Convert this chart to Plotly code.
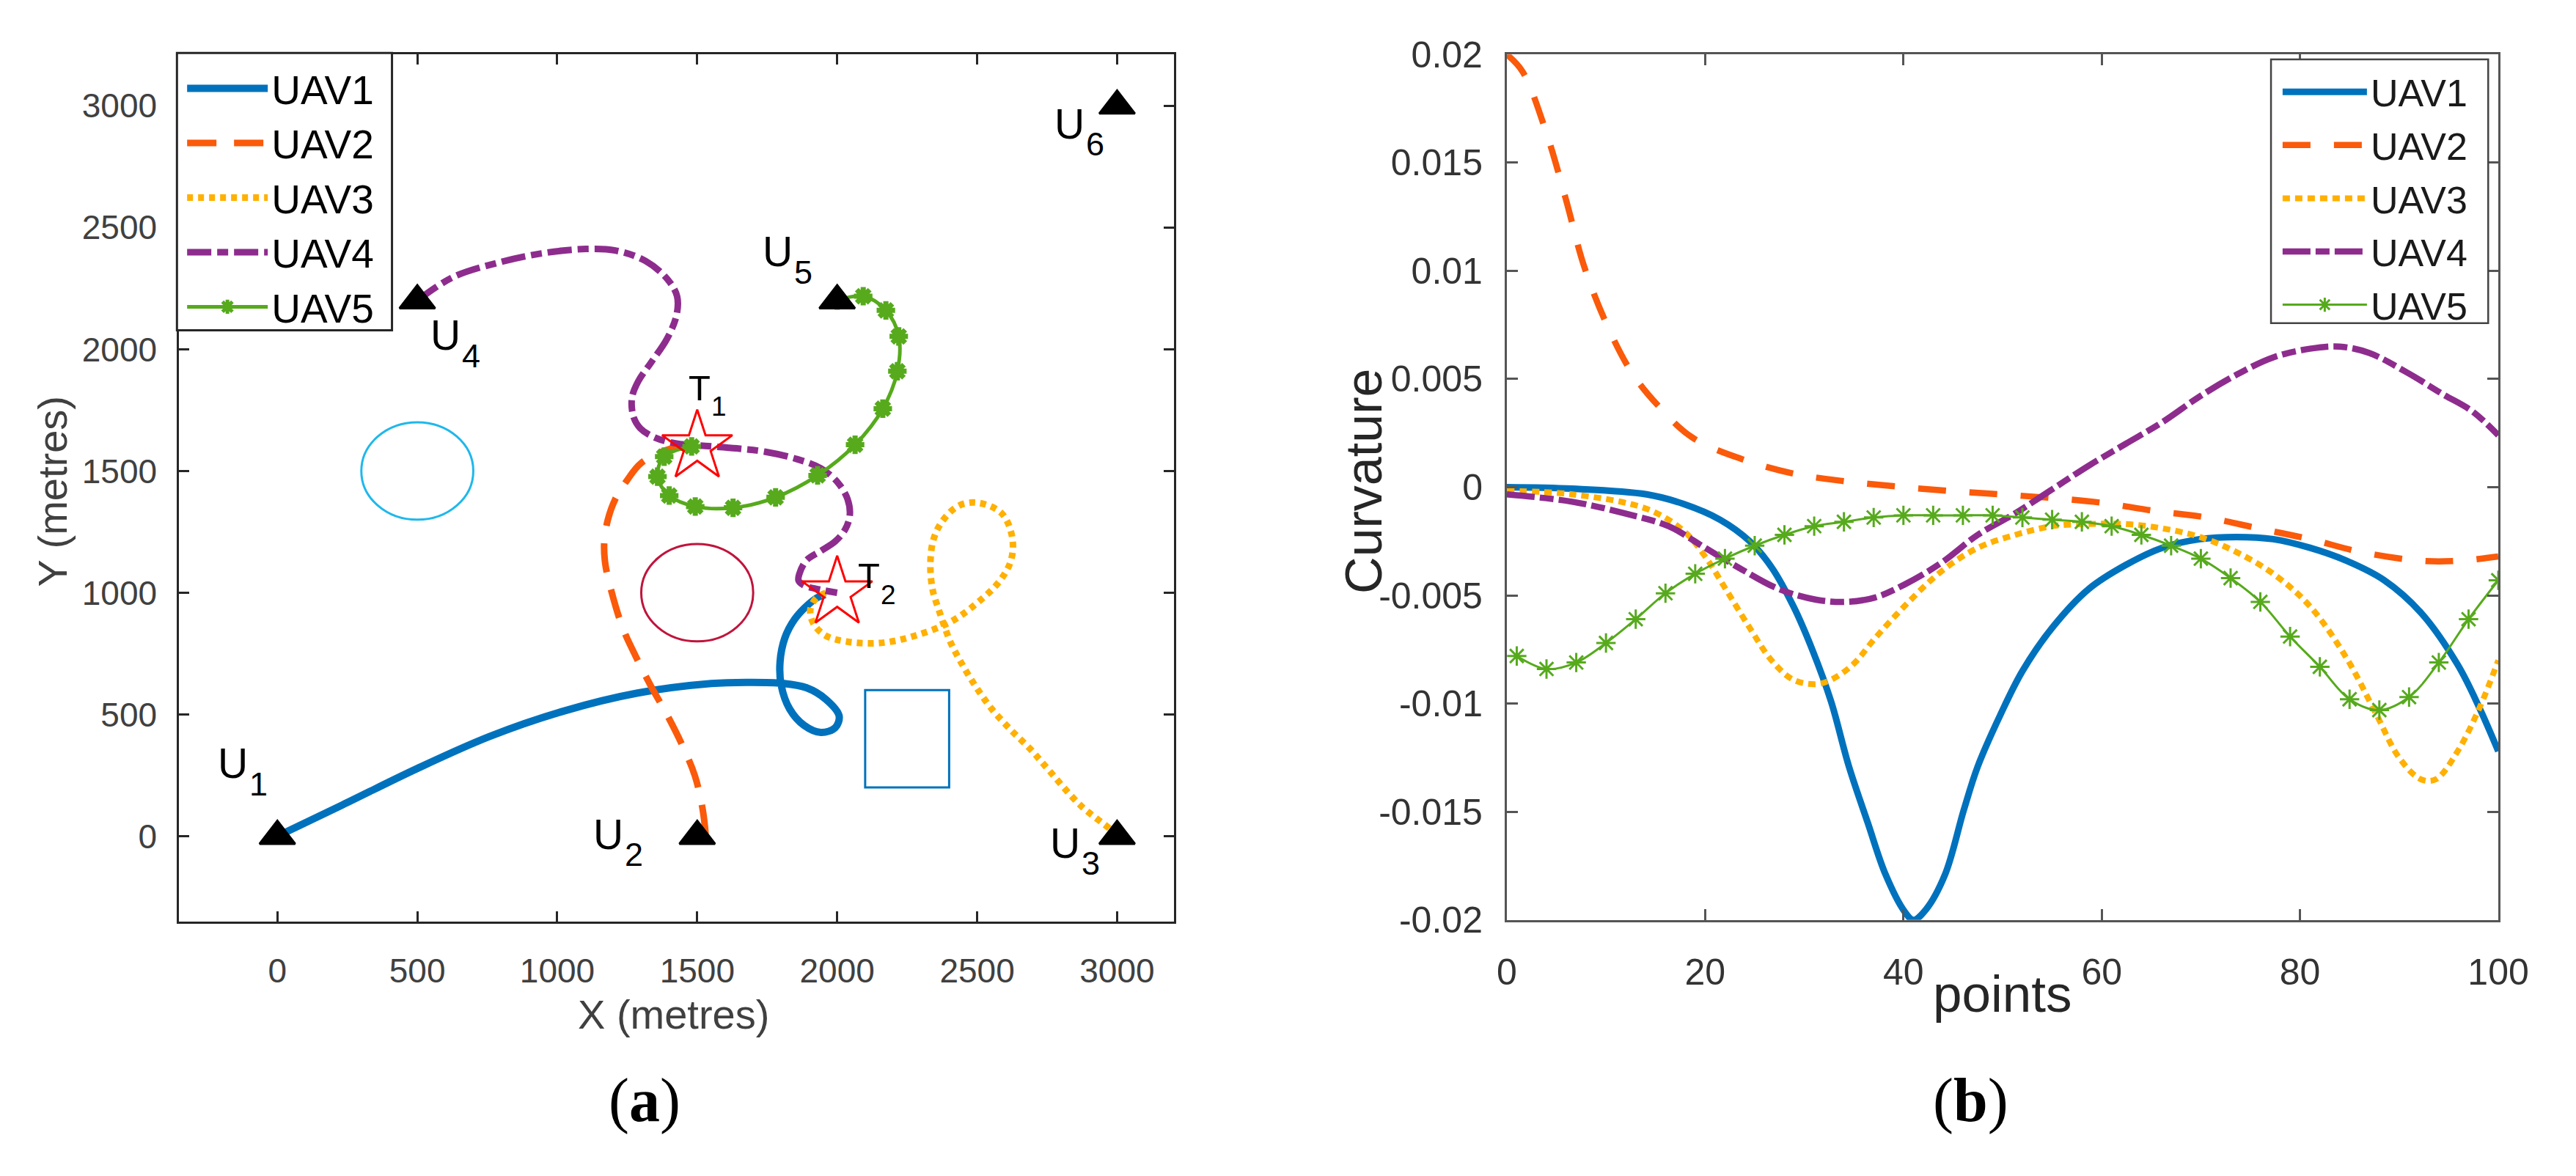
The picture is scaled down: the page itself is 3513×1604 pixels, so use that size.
import plotly.graph_objects as go

# (a) UAV trajectories, metres
uav1_x = [0, 232, 496, 759, 1023, 1287, 1550, 1676, 1805, 1890, 1960, 2007, 1993, 1942, 1882, 1830, 1800, 1796, 1813, 1848, 1899, 1934, 1958]
uav1_y = [0, 128, 276, 410, 514, 588, 627, 632, 628, 610, 562, 494, 446, 426, 455, 523, 620, 717, 814, 891, 954, 983, 992]
uav2_x = [1530, 1519, 1492, 1450, 1392, 1334, 1281, 1234, 1194, 1171, 1168, 1181, 1207, 1247, 1300, 1400, 1480]
uav2_y = [10, 113, 247, 365, 499, 618, 737, 855, 1004, 1123, 1212, 1301, 1384, 1458, 1533, 1590, 1600]
uav3_x = [3000, 2974, 2868, 2742, 2690, 2621, 2552, 2492, 2441, 2406, 2380, 2363, 2342, 2333, 2342, 2372, 2432, 2500,
          2587, 2625, 2621, 2579, 2501, 2406, 2277, 2157, 2037, 1960, 1916, 1904, 1925, 1960]
uav3_y = [0, 30, 128, 290, 358, 436, 523, 620, 717, 794, 872, 930, 1007, 1104, 1210, 1288, 1356, 1370,
          1327, 1230, 1133, 1046, 959, 881, 823, 794, 799, 823, 872, 930, 978, 1000]
uav4_x = [500, 627, 786, 944, 1102, 1207, 1315, 1392, 1428, 1426, 1392, 1336, 1289, 1267, 1272, 1297, 1349, 1426,
          1529, 1641, 1744, 1856, 1942, 2002, 2037, 2045, 2028, 1993, 1942, 1890, 1865, 1862, 1882, 1942, 2000]
uav4_y = [2200, 2296, 2355, 2394, 2412, 2406, 2363, 2290, 2218, 2140, 2043, 1947, 1868, 1801, 1724, 1675, 1637, 1613,
          1603, 1593, 1579, 1549, 1511, 1453, 1385, 1317, 1259, 1211, 1172, 1133, 1078, 1050, 1030, 1012, 1000]
uav5_x = [2000, 2093, 2174, 2220, 2215, 2163, 2064, 1930, 1780, 1628, 1493, 1400, 1358, 1382, 1480]
uav5_y = [2200, 2218, 2160, 2053, 1910, 1756, 1608, 1482, 1392, 1349, 1354, 1399, 1477, 1559, 1601]

# start points U1..U6 and targets T1, T2
start_x = [0, 1500, 3000, 500, 2000, 3000]
start_y = [0, 0, 0, 2200, 2200, 3000]
start_sub = ["1", "2", "3", "4", "5", "6"]
start_label_x = [-219, 1122, 2756, 542, 1728, 2771]
start_label_y = [299, 8, -28, 2058, 2401, 2927]
target_x = [1500, 2000]
target_y = [1600, 1000]
target_sub = ["1", "2"]
target_label_x = [1463, 2069]
target_label_y = [1843, 1070]

# obstacles: circles (cx, cy, r) and one rectangle (x0, x1, y0, y1)
circle_cx = [500, 1500]
circle_cy = [1500, 1000]
circle_r = [200, 200]
circle_colors = ["#1EB8EC", "#C0143C"]
rect_box = [2100, 2400, 200, 600]

# (b) curvature along the path points
c1_x = [0, 6.6, 14.1, 17.8, 21.5, 24.5, 26.7, 28.9, 30.8, 32.7, 34.5, 36.4, 38.2, 40.1, 41, 42.3, 44.2, 46.1, 47.5,
        49.8, 52, 55, 58.7, 62.4, 66.1, 69.9, 73.6, 77.3, 81, 84.7, 88.5, 92.2, 95.9, 98.1, 100]
c1_y = [0, -0.00007, -0.00033, -0.00077, -0.0015, -0.0025, -0.0037, -0.0055, -0.0075, -0.0099, -0.0129, -0.0155,
        -0.0179, -0.0196, -0.0200, -0.0195, -0.0179, -0.0149, -0.0129, -0.0105, -0.0085, -0.0065, -0.0047, -0.0036,
        -0.0028, -0.0024, -0.0023, -0.0024, -0.0028, -0.0034, -0.0043, -0.0058, -0.0082, -0.0102, -0.0122]
c2_x = [0, 1.6, 3.9, 5.9, 7.8, 10.1, 12.6, 15.2, 18.7, 23.7, 28.9, 34.2, 39.4, 44.6, 49.8, 55, 60.2, 65.4, 70.6,
        75.8, 81, 86.2, 92.2, 96, 100]
c2_y = [0.0200, 0.0192, 0.0165, 0.0134, 0.0102, 0.0075, 0.0053, 0.0038, 0.0023, 0.0013, 0.00063, 0.00027, 0.00003,
        -0.00017, -0.00033, -0.0005, -0.00073, -0.0011, -0.0014, -0.0019, -0.0024, -0.0030, -0.0034, -0.0034, -0.0032]
c3_x = [0, 6.6, 14.1, 17.8, 20, 22.2, 24.5, 26.7, 28.9, 31.2, 32.7, 34.9, 37.1, 40.1, 43.8, 47.5, 51.3, 55, 58.7,
        62.4, 66.1, 69.9, 73.6, 77.3, 81, 84.7, 87.7, 90, 92.2, 93.7, 95.9, 98.1, 100]
c3_y = [-0.00017, -0.00033, -0.0010, -0.0020, -0.0032, -0.0048, -0.0065, -0.0080, -0.0089, -0.0091, -0.0089,
        -0.0082, -0.0070, -0.0055, -0.0039, -0.0028, -0.0022, -0.0018, -0.0017, -0.0017, -0.0019, -0.0023, -0.0030,
        -0.0040, -0.0055, -0.0079, -0.0105, -0.0125, -0.0135, -0.0135, -0.0122, -0.0102, -0.0080]
c4_x = [0, 6.6, 11.8, 16.3, 20, 23.7, 27.4, 31.2, 34.2, 37.1, 40.1, 43.8, 47.5, 51.3, 55, 58.7, 62.4, 66.1, 69.9,
        73.6, 77.3, 81, 84, 87, 90.8, 94.4, 97.4, 100]
c4_y = [-0.00033, -0.00067, -0.0012, -0.0018, -0.0028, -0.0038, -0.0047, -0.0052, -0.0053, -0.0051, -0.0045,
        -0.0035, -0.0022, -0.0012, -0.0001, 0.0010, 0.0020, 0.0030, 0.0042, 0.0052, 0.0060, 0.0064, 0.0065, 0.0062,
        0.0053, 0.0043, 0.0035, 0.0024]
c5_x = [1, 4, 7, 10, 13, 16, 19, 22, 25, 28, 31, 34, 37, 40, 43, 46, 49, 52, 55, 58, 61, 64, 67, 70, 73, 76, 79,
        82, 85, 88, 91, 94, 97, 100]
c5_y = [-0.0078, -0.0084, -0.0081, -0.0072, -0.0061, -0.0049, -0.0040, -0.0033, -0.0027, -0.0022, -0.0018, -0.0016,
        -0.0014, -0.0013, -0.0013, -0.0013, -0.0013, -0.0014, -0.0015, -0.0016, -0.0018, -0.0022, -0.0027, -0.0033,
        -0.0042, -0.0053, -0.0069, -0.0083, -0.0098, -0.0103, -0.0097, -0.0081, -0.0061, -0.0043]

names = ["UAV1", "UAV2", "UAV3", "UAV4", "UAV5"]
colors = ["#0072BD", "#FA5A0A", "#FFB000", "#8E2C8E", "#56AA1C"]

W, H = 3513, 1604
SANS = "Liberation Sans, Arial, sans-serif"
SERIF = "Liberation Serif, Times New Roman, serif"

fig = go.Figure()

# ---- (a) ----
paths = [(uav1_x, uav1_y), (uav2_x, uav2_y), (uav3_x, uav3_y), (uav4_x, uav4_y), (uav5_x, uav5_y)]
dash_a = ["solid", "40px,24px", "8px,7px", "33px,8px,15px,8px", "solid"]
widths_a = [10, 9, 9, 9, 5]
for i, (px, py) in enumerate(paths):
    fig.add_trace(go.Scatter(
        x=px, y=py, name=names[i], legend="legend", legendgroup="a%d" % i,
        mode="lines+markers" if i == 4 else "lines",
        line=dict(color=colors[i], width=widths_a[i], dash=dash_a[i], shape="spline"),
        marker=dict(symbol="asterisk-open", size=21, line=dict(color=colors[i], width=7)) if i == 4 else None,
        xaxis="x", yaxis="y"))

fig.add_trace(go.Scatter(
    x=start_x, y=start_y, mode="markers", showlegend=False, xaxis="x", yaxis="y",
    marker=dict(symbol="triangle-up", size=42, color="black", line=dict(color="black", width=3))))
fig.add_trace(go.Scatter(
    x=target_x, y=target_y, mode="markers", showlegend=False, xaxis="x", yaxis="y",
    marker=dict(symbol="star-open", size=72, color="red", line=dict(color="red", width=3))))

shapes = []
for cx, cy, r, c in zip(circle_cx, circle_cy, circle_r, circle_colors):
    shapes.append(dict(type="circle", xref="x", yref="y", x0=cx - r, x1=cx + r, y0=cy - r, y1=cy + r,
                       line=dict(color=c, width=3), layer="below"))
shapes.append(dict(type="rect", xref="x", yref="y", x0=rect_box[0], x1=rect_box[1], y0=rect_box[2], y1=rect_box[3],
                   line=dict(color="#0072BD", width=3), layer="below"))

annotations = []


def point_label(x, y, letter, sub, size, sub_size, dx, dy):
    base = dict(x=x, y=y, xref="x", yref="y", showarrow=False, xanchor="left", yanchor="middle")
    return [dict(base, text=letter, font=dict(family=SANS, size=size, color="black")),
            dict(base, text=sub, xshift=dx, yshift=dy, font=dict(family=SANS, size=sub_size, color="black"))]


for lx, ly, s in zip(start_label_x, start_label_y, start_sub):
    annotations += point_label(lx, ly, "U", s, 57, 45, 43, -28)
for lx, ly, s in zip(target_label_x, target_label_y, target_sub):
    annotations += point_label(lx, ly, "T", s, 49, 37, 31, -26)

# ---- (b) ----
curves = [(c1_x, c1_y), (c2_x, c2_y), (c3_x, c3_y), (c4_x, c4_y), (c5_x, c5_y)]
dash_b = ["solid", "38px,32px", "10px,7px", "38px,7px,19px,7px", "solid"]
widths_b = [9, 8.5, 8, 8.5, 3]
for i, (px, py) in enumerate(curves):
    fig.add_trace(go.Scatter(
        x=px, y=py, name=names[i], legend="legend2", legendgroup="b%d" % i,
        mode="lines+markers" if i == 4 else "lines",
        line=dict(color=colors[i], width=widths_b[i], dash=dash_b[i], shape="spline"),
        marker=dict(symbol="asterisk-open", size=22, line=dict(color=colors[i], width=3)) if i == 4 else None,
        xaxis="x2", yaxis="y2"))

# legend frames
shapes.append(dict(type="rect", xref="paper", yref="paper", x0=231 / W, x1=529 / W, y0=1 - 438 / H, y1=1 - 46 / H,
                   fillcolor="white", line=dict(color="#262626", width=3), layer="above"))
shapes.append(dict(type="rect", xref="paper", yref="paper", x0=3133 / W, x1=3434 / W, y0=1 - 428 / H, y1=1 - 55 / H,
                   fillcolor="white", line=dict(color="#444444", width=2.5), layer="above"))


def title_note(text, x, y, size, angle=0, family=SANS, color="#262626"):
    return dict(text=text, x=x / W, y=1 - y / H, xref="paper", yref="paper", showarrow=False,
                xanchor="center", yanchor="middle", textangle=angle, font=dict(family=family, size=size, color=color))


annotations += [
    title_note("X (metres)", 919, 1405, 56, color="#404040"),
    title_note("Y (metres)", 58, 666, 56, angle=-90, color="#404040"),
    title_note("Curvature", 1876, 652, 70, angle=-90),
    title_note("points", 2760, 1376, 71),
    title_note("(<b>a</b>)", 879, 1527, 84, family=SERIF, color="black"),
    title_note("(<b>b</b>)", 2717, 1527, 84, family=SERIF, color="black"),
]

axis_a = dict(showgrid=False, zeroline=False, showline=True, linecolor="#262626", linewidth=3, mirror="ticks",
              ticks="inside", ticklen=14, tickwidth=3, tickcolor="#262626",
              tickfont=dict(family=SANS, size=46, color="#404040"))
axis_b = dict(showgrid=False, zeroline=False, showline=True, linecolor="#555555", linewidth=3, mirror="ticks",
              ticks="inside", ticklen=15, tickwidth=3, tickcolor="#555555",
              tickfont=dict(family=SANS, size=50, color="#333333"))

fig.update_layout(
    width=W, height=H, margin=dict(l=0, r=0, t=0, b=0),
    paper_bgcolor="white", plot_bgcolor="white",
    xaxis=dict(axis_a, domain=[234 / W, 1613 / W], range=[-351, 3204], tickvals=[0, 500, 1000, 1500, 2000, 2500, 3000],
               anchor="y", ticklabelstandoff=25),
    yaxis=dict(axis_a, domain=[1 - 1274 / H, 1 - 48 / H], range=[-350, 3211], tickvals=[0, 500, 1000, 1500, 2000, 2500, 3000],
               anchor="x", ticklabelstandoff=18),
    xaxis2=dict(axis_b, domain=[2074 / W, 3448 / W], range=[0, 100], tickvals=[0, 20, 40, 60, 80, 100],
                anchor="y2", ticklabelstandoff=25),
    yaxis2=dict(axis_b, domain=[1 - 1272 / H, 1 - 48 / H], range=[-0.02, 0.02],
                tickvals=[-0.02, -0.015, -0.01, -0.005, 0, 0.005, 0.01, 0.015, 0.02],
                ticktext=["-0.02", "-0.015", "-0.01", "-0.005", "0", "0.005", "0.01", "0.015", "0.02"],
                anchor="x2", ticklabelstandoff=20),
    legend=dict(x=240 / W, y=1 - 52 / H, xanchor="left", yanchor="top", bgcolor="rgba(0,0,0,0)", borderwidth=0,
                font=dict(family=SANS, size=55, color="black"), itemwidth=110, tracegroupgap=0),
    legend2=dict(x=3144 / W, y=1 - 59 / H, xanchor="left", yanchor="top", bgcolor="rgba(0,0,0,0)", borderwidth=0,
                 font=dict(family=SANS, size=52, color="#1a1a1a"), itemwidth=115, tracegroupgap=2),
    shapes=shapes, annotations=annotations, showlegend=True,
)

fig.write_html("out.html", config={"displayModeBar": False}, post_script="document.body.style.margin='0';")
